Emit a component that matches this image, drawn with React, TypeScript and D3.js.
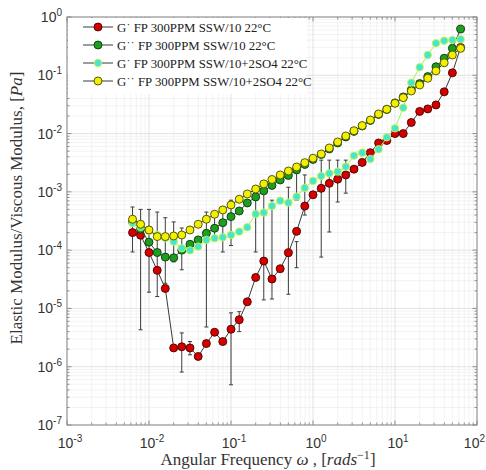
import React from "react";
import * as d3 from "d3";

// angular frequency, rad/s
const freq = [
  0.0063, 0.0079, 0.01, 0.0126, 0.0158, 0.02, 0.0251, 0.0316, 0.0398, 0.0501,
  0.0631, 0.0794, 0.1, 0.126, 0.158, 0.2, 0.251, 0.316, 0.398, 0.501,
  0.631, 0.794, 1, 1.26, 1.58, 2, 2.51, 3.16, 3.98, 5.01,
  6.31, 7.94, 10, 12.6, 15.8, 20, 25.1, 31.6, 39.8, 50.1, 63.1,
];

// G' SSW/10 (red)
const gPrime = [
  2.0e-4, 1.8e-4, 9.1e-5, 4.5e-5, 2.2e-5, 2.1e-6, 2.2e-6, 2.1e-6, 1.5e-6, 2.5e-6,
  3.9e-6, 2.7e-6, 4.4e-6, 6.4e-6, 1.3e-5, 3.4e-5, 6.5e-5, 3.2e-5, 4.8e-5, 9.0e-5,
  2.1e-4, 5.7e-4, 8.9e-4, 1.15e-3, 1.4e-3, 1.65e-3, 1.95e-3, 2.45e-3, 3.2e-3, 4.7e-3,
  6.9e-3, 7.6e-3, 1.0e-2, 1.0e-2, 1.55e-2, 2.4e-2, 2.65e-2, 3.1e-2, 5.2e-2, 0.11, 0.3,
];

// G'' SSW/10 (green)
const gDouble = [
  3.05e-4, 2.3e-4, 1.37e-4, 9.1e-5, 7.6e-5, 7.4e-5, 1.0e-4, 1.26e-4, 1.5e-4, 1.95e-4,
  2.38e-4, 2.96e-4, 3.76e-4, 4.7e-4, 6.45e-4, 8.2e-4, 1.04e-3, 1.29e-3, 1.6e-3, 1.91e-3,
  2.38e-3, 2.95e-3, 3.6e-3, 4.38e-3, 5.44e-3, 6.9e-3, 8.75e-3, 1.09e-2, 1.35e-2, 1.68e-2,
  2.13e-2, 2.59e-2, 3.35e-2, 4.25e-2, 5.6e-2, 7.2e-2, 9.5e-2, 0.14, 0.196, 0.29, 0.62,
];

// G' SSW/10+2SO4 (cyan)
const gPrimeSO4 = [
  2.93e-4, 2.5e-4, 2.13e-4, 1.82e-4, 1.62e-4, 1.4e-4, 1.08e-4, 9.9e-5, 1.15e-4, 1.5e-4,
  1.6e-4, 1.66e-4, 1.82e-4, 2.08e-4, 2.47e-4, 4.18e-4, 4.4e-4, 5.73e-4, 7.07e-4, 6.53e-4,
  8.27e-4, 1.17e-3, 1.54e-3, 1.87e-3, 2.08e-3, 2.22e-3, 2.7e-3, 4.18e-3, 4.7e-3, 3.67e-3,
  5.38e-3, 8.64e-3, 1.23e-2, 2.78e-2, 7.46e-2, 0.137, 0.223, 0.354, 0.392, 0.403, 0.414,
];

// G'' SSW/10+2SO4 (yellow)
const gDoubleSO4 = [
  3.39e-4, 2.78e-4, 2.22e-4, 1.71e-4, 1.71e-4, 1.75e-4, 1.82e-4, 2.22e-4, 2.78e-4, 3.39e-4,
  4.13e-4, 4.9e-4, 5.96e-4, 7.46e-4, 9.2e-4, 1.12e-3, 1.37e-3, 1.63e-3, 1.95e-3, 2.28e-3,
  2.67e-3, 3.17e-3, 3.77e-3, 4.47e-3, 5.66e-3, 7.18e-3, 9.1e-3, 1.12e-2, 1.37e-2, 1.71e-2,
  2.17e-2, 2.61e-2, 3.31e-2, 4.13e-2, 5.38e-2, 6.82e-2, 8.89e-2, 0.119, 0.164, 0.223, 0.29,
];

// error bars: index into freq, lower and upper value
const errIdx = [0, 1, 2, 3, 4, 5, 6, 6, 7, 9, 10, 11, 12, 12, 13, 15, 16, 17, 19, 20, 20, 21, 23, 24, 25, 26];
const errLo = [
  9.3e-5, 4.3e-6, 1.9e-5, 1.6e-5, 2.7e-5, 6.3e-5, 8.1e-7, 4.6e-5, 1.6e-6, 4.8e-6,
  1.5e-4, 9.3e-5, 4.9e-7, 1.2e-4, 4.0e-6, 9.3e-5, 1.4e-5, 1.45e-5, 1.75e-5, 5.0e-5,
  7.2e-4, 4.0e-4, 7.6e-5, 2.05e-4, 6.7e-4, 9.5e-4,
];
const errHi = [
  5.5e-4, 5.0e-4, 5.0e-4, 4.5e-4, 3.6e-4, 3.05e-4, 3.8e-6, 2.4e-4, 2.7e-6, 4.5e-4,
  4.0e-4, 5.5e-4, 8.4e-6, 7.2e-4, 8.8e-6, 7.2e-4, 1.42e-3, 7.2e-4, 1.2e-3, 1.4e-4,
  2.4e-3, 1.95e-3, 3.5e-3, 3.5e-3, 3.5e-3, 3.5e-3,
];

const xTickExp = [-3, -2, -1, 0, 1, 2];
const yTickExp = [-7, -6, -5, -4, -3, -2, -1, 0];

const legendLabels = [
  "G\u02D9  FP 300PPM SSW/10 22\u00B0C",
  "G\u02D9\u02D9  FP 300PPM SSW/10 22\u00B0C",
  "G\u02D9  FP 300PPM SSW/10+2SO4 22\u00B0C",
  "G\u02D9\u02D9  FP 300PPM SSW/10+2SO4 22\u00B0C",
];

const W = 486;
const H = 470;
const left = 67;
const right = 477;
const top = 17;
const bottom = 425;

const series = [
  { values: gPrime, fill: "#d40000", stroke: "#4a0000", line: "#3a3a3a", r: 4 },
  { values: gDouble, fill: "#1e9e1e", stroke: "#0b3a0b", line: "#3a3a3a", r: 4 },
  { values: gPrimeSO4, fill: "#44e6d2", stroke: "#c8f53a", line: "#a8ef5a", r: 3.7 },
  { values: gDoubleSO4, fill: "#f2f000", stroke: "#4a4a00", line: "#3a3a3a", r: 4 },
];

export default function App() {
  const x = d3.scaleLog().domain([1e-3, 1e2]).range([left, right]);
  const y = d3.scaleLog().domain([1e-7, 1]).range([bottom, top]);

  const minorX: number[] = [];
  xTickExp.slice(0, -1).forEach((e) => {
    for (let m = 2; m <= 9; m++) minorX.push(m * Math.pow(10, e));
  });
  const minorY: number[] = [];
  yTickExp.slice(0, -1).forEach((e) => {
    for (let m = 2; m <= 9; m++) minorY.push(m * Math.pow(10, e));
  });

  const line = d3
    .line<number>()
    .x((_, i) => x(freq[i]))
    .y((d) => y(d));

  return (
    <svg
      width={W}
      height={H}
      style={{ position: "absolute", left: 0, top: 0, background: "#fff" }}
    >
      {/* grid */}
      <g>
        {minorX.map((v, i) => (
          <line key={"mx" + i} x1={x(v)} x2={x(v)} y1={top} y2={bottom} stroke="#eeeeee" strokeWidth={0.7} />
        ))}
        {minorY.map((v, i) => (
          <line key={"my" + i} x1={left} x2={right} y1={y(v)} y2={y(v)} stroke="#eeeeee" strokeWidth={0.7} />
        ))}
        {xTickExp.map((e) => (
          <line key={"gx" + e} x1={x(Math.pow(10, e))} x2={x(Math.pow(10, e))} y1={top} y2={bottom} stroke="#dcdcdc" strokeWidth={0.8} />
        ))}
        {yTickExp.map((e) => (
          <line key={"gy" + e} x1={left} x2={right} y1={y(Math.pow(10, e))} y2={y(Math.pow(10, e))} stroke="#dcdcdc" strokeWidth={0.8} />
        ))}
      </g>

      {/* ticks inside on all sides */}
      <g stroke="#777" strokeWidth={0.8}>
        {minorX.map((v, i) => (
          <g key={"tx" + i}>
            <line x1={x(v)} x2={x(v)} y1={bottom} y2={bottom - 2.5} />
            <line x1={x(v)} x2={x(v)} y1={top} y2={top + 2.5} />
          </g>
        ))}
        {minorY.map((v, i) => (
          <g key={"ty" + i}>
            <line x1={left} x2={left + 2.5} y1={y(v)} y2={y(v)} />
            <line x1={right} x2={right - 2.5} y1={y(v)} y2={y(v)} />
          </g>
        ))}
        {xTickExp.map((e) => (
          <g key={"Tx" + e}>
            <line x1={x(Math.pow(10, e))} x2={x(Math.pow(10, e))} y1={bottom} y2={bottom - 4.5} />
            <line x1={x(Math.pow(10, e))} x2={x(Math.pow(10, e))} y1={top} y2={top + 4.5} />
          </g>
        ))}
        {yTickExp.map((e) => (
          <g key={"Ty" + e}>
            <line x1={left} x2={left + 4.5} y1={y(Math.pow(10, e))} y2={y(Math.pow(10, e))} />
            <line x1={right} x2={right - 4.5} y1={y(Math.pow(10, e))} y2={y(Math.pow(10, e))} />
          </g>
        ))}
      </g>

      {/* error bars */}
      <g stroke="#3c3c3c" strokeWidth={1}>
        {errIdx.map((k, i) => {
          const cx = x(freq[k]);
          return (
            <g key={"e" + i}>
              <line x1={cx} x2={cx} y1={y(errLo[i])} y2={y(errHi[i])} />
              <line x1={cx - 2} x2={cx + 2} y1={y(errLo[i])} y2={y(errLo[i])} />
              <line x1={cx - 2} x2={cx + 2} y1={y(errHi[i])} y2={y(errHi[i])} />
            </g>
          );
        })}
      </g>

      {/* series */}
      {series.map((s, si) => (
        <g key={"s" + si}>
          <path d={line(s.values) || ""} fill="none" stroke={s.line} strokeWidth={1} />
          {s.values.map((v, i) => (
            <circle
              key={i}
              cx={x(freq[i])}
              cy={y(v)}
              r={s.r}
              fill={s.fill}
              stroke={s.stroke}
              strokeWidth={0.9}
            />
          ))}
        </g>
      ))}

      {/* legend */}
      <g>
        <rect x={left + 1} y={top + 1} width={238} height={76} fill="#fff" />
        {legendLabels.map((lab, i) => {
          const ly = 27 + i * 18;
          const s = series[i];
          return (
            <g key={"l" + i}>
              <line x1={83} x2={113} y1={ly} y2={ly} stroke="#3a3a3a" strokeWidth={1} />
              <circle cx={98} cy={ly} r={s.r} fill={s.fill} stroke={s.stroke} strokeWidth={0.9} />
              <text
                x={117}
                y={ly + 4.5}
                fontFamily="'Liberation Serif', serif"
                fontSize={12.8}
                fill="#222"
              >
                {lab}
              </text>
            </g>
          );
        })}
      </g>

      {/* frame */}
      <rect x={left} y={top} width={right - left} height={bottom - top} fill="none" stroke="#8a8a8a" strokeWidth={1} />

      {/* tick labels */}
      <g fontFamily="'Liberation Sans', Arial, sans-serif" fill="#333">
        {xTickExp.map((e, i) => (
          <text
            key={"lx" + e}
            x={i === xTickExp.length - 1 ? W - 1 : x(Math.pow(10, e)) + 3}
            y={448}
            textAnchor={i === xTickExp.length - 1 ? "end" : "middle"}
            fontSize={14}
          >
            10
            <tspan dy={-6} fontSize={10}>{e}</tspan>
          </text>
        ))}
        {yTickExp.map((e) => (
          <text key={"ly" + e} x={62} y={y(Math.pow(10, e)) + 5} textAnchor="end" fontSize={14}>
            10
            <tspan dy={-6} fontSize={10}>{e}</tspan>
          </text>
        ))}
      </g>

      {/* axis titles */}
      <text
        x={268}
        y={465}
        textAnchor="middle"
        fontFamily="'Liberation Serif', serif"
        fontSize={17}
        fill="#333"
      >
        Angular Frequency <tspan fontStyle="italic">ω</tspan> , [<tspan fontStyle="italic">rads</tspan>
        <tspan dy={-6} fontSize={12}>−1</tspan>
        <tspan dy={6}>]</tspan>
      </text>
      <text
        transform="translate(22,208) rotate(-90)"
        textAnchor="middle"
        fontFamily="'Liberation Serif', serif"
        fontSize={17}
        fill="#333"
      >
        Elastic Modulus/Viscous Modulus, [<tspan fontStyle="italic">Pa</tspan>]
      </text>
    </svg>
  );
}
